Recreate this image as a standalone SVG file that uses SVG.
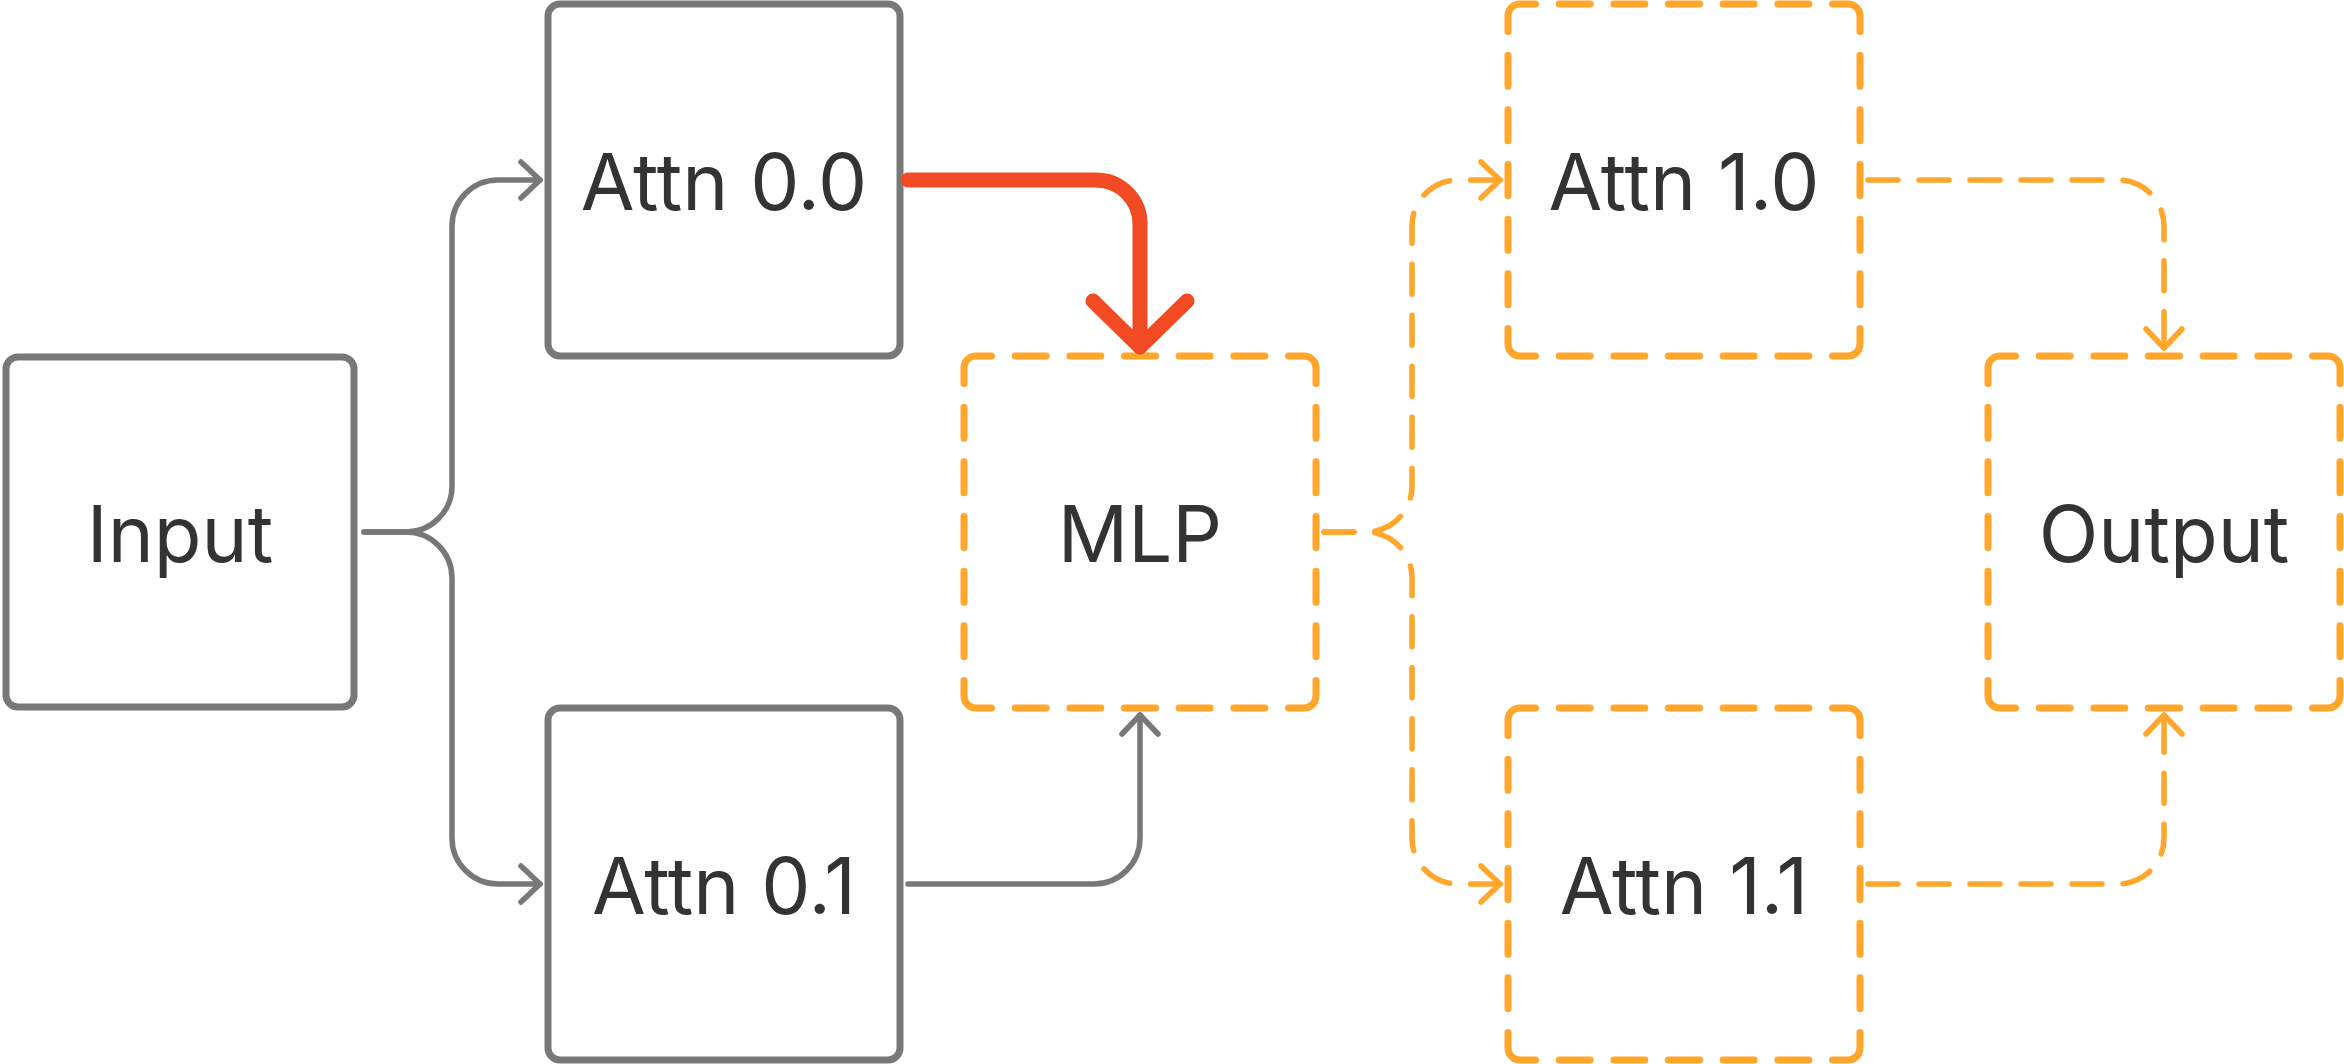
<svg xmlns="http://www.w3.org/2000/svg" xmlns:xlink="http://www.w3.org/1999/xlink" width="2344" height="1064" viewBox="0 0 2344 1064">
  <style>
    .sbox { fill: #ffffff; stroke: #787878; stroke-width: 7; }
    .dc { fill: none; stroke: #FFA62B; stroke-width: 7; stroke-linecap: round; stroke-linejoin: round; }
    .ds { fill: none; stroke: #FFA62B; stroke-width: 7; stroke-linecap: round; stroke-dasharray: 31 23.6667; stroke-dashoffset: 31; }
    .lbl { font-family: Inter, "Liberation Sans", sans-serif; font-size: 78px; fill: #333333; text-anchor: middle; }
    .cg { fill: none; stroke: #787878; stroke-width: 5.5; stroke-linecap: round; stroke-linejoin: round; }
    .co { fill: none; stroke: #FFA62B; stroke-width: 5.5; stroke-linecap: round; stroke-linejoin: round; stroke-dasharray: 30 21; }
    .cr { fill: none; stroke: #F24A23; stroke-width: 15; stroke-linecap: round; stroke-linejoin: round; }
  </style>
  <defs>
    <g id="dbox">
      <rect x="0" y="0" width="352" height="352" rx="12" fill="#ffffff"/>
      <path class="dc" d="M0 27.5V12A12 12 0 0 1 12 0H27.5M324.5 0H340A12 12 0 0 1 352 12V27.5M352 324.5V340A12 12 0 0 1 340 352H324.5M27.5 352H12A12 12 0 0 1 0 340V324.5"/>
      <path class="ds" d="M27.5 0H324.5"/>
      <path class="ds" d="M352 27.5V324.5"/>
      <path class="ds" d="M324.5 352H27.5"/>
      <path class="ds" d="M0 324.5V27.5"/>
    </g>
    <marker id="ahg" markerUnits="userSpaceOnUse" orient="auto" refX="0" refY="0" markerWidth="1" markerHeight="1" overflow="visible">
      <path d="M-19 -18L0 0L-19 18" fill="none" stroke="#787878" stroke-width="5.5" stroke-linecap="round" stroke-linejoin="round"/>
    </marker>
    <marker id="aho" markerUnits="userSpaceOnUse" orient="auto" refX="0" refY="0" markerWidth="1" markerHeight="1" overflow="visible">
      <path d="M-19 -18L0 0L-19 18" fill="none" stroke="#FFA62B" stroke-width="5.5" stroke-linecap="round" stroke-linejoin="round"/>
    </marker>
    <marker id="ahr" markerUnits="userSpaceOnUse" orient="auto" refX="0" refY="0" markerWidth="1" markerHeight="1" overflow="visible">
      <path d="M-46 -47L0 0L-46 47" fill="none" stroke="#F24A23" stroke-width="15" stroke-linecap="round" stroke-linejoin="round"/>
    </marker>
  </defs>
  <rect x="0" y="0" width="2344" height="1064" fill="#ffffff"/>

  <g id="nodes">
    <g id="input">
      <rect class="sbox" x="6" y="357" width="348" height="350" rx="12"/>
      <text class="lbl" x="180" y="561.5">Input</text>
    </g>
    <g id="attn00">
      <rect class="sbox" x="548" y="4" width="352" height="352" rx="12"/>
      <text class="lbl" x="724" y="209.5">Attn 0.0</text>
    </g>
    <g id="attn01">
      <rect class="sbox" x="548" y="708" width="352" height="352" rx="12"/>
      <text class="lbl" x="724" y="913.5">Attn 0.1</text>
    </g>
    <g id="mlp">
      <use xlink:href="#dbox" href="#dbox" x="964" y="356"/>
      <text class="lbl" x="1140" y="561.5">MLP</text>
    </g>
    <g id="attn10">
      <use xlink:href="#dbox" href="#dbox" x="1508" y="4"/>
      <text class="lbl" x="1684" y="209.5">Attn 1.0</text>
    </g>
    <g id="attn11">
      <use xlink:href="#dbox" href="#dbox" x="1508" y="708"/>
      <text class="lbl" x="1684" y="913.5">Attn 1.1</text>
    </g>
    <g id="output">
      <use xlink:href="#dbox" href="#dbox" x="1988" y="356"/>
      <text class="lbl" x="2164" y="561.5">Output</text>
    </g>
  </g>

  <g id="connectors">
    <path id="e-input-attn00" class="cg" marker-end="url(#ahg)" d="M364 532H406A46 46 0 0 0 452 486V226A46 46 0 0 1 498 180H540"/>
    <path id="e-input-attn01" class="cg" marker-end="url(#ahg)" d="M364 532H406A46 46 0 0 1 452 578V838A46 46 0 0 0 498 884H540"/>
    <path id="e-attn01-mlp" class="cg" marker-end="url(#ahg)" d="M908 884H1094A46 46 0 0 0 1140 838V715"/>
    <path id="e-attn00-mlp" class="cr" marker-end="url(#ahr)" d="M908 180H1096A44 44 0 0 1 1140 224V347"/>
    <path id="e-mlp-attn10" class="co" marker-end="url(#aho)" d="M1324 532H1366A46 46 0 0 0 1412 486V226A46 46 0 0 1 1458 180H1500"/>
    <path id="e-mlp-attn11" class="co" marker-end="url(#aho)" d="M1324 532H1366A46 46 0 0 1 1412 578V838A46 46 0 0 0 1458 884H1500"/>
    <path id="e-attn10-output" class="co" marker-end="url(#aho)" d="M1868 180H2118A46 46 0 0 1 2164 226V348"/>
    <path id="e-attn11-output" class="co" marker-end="url(#aho)" d="M1868 884H2118A46 46 0 0 0 2164 838V715"/>
  </g>
</svg>
